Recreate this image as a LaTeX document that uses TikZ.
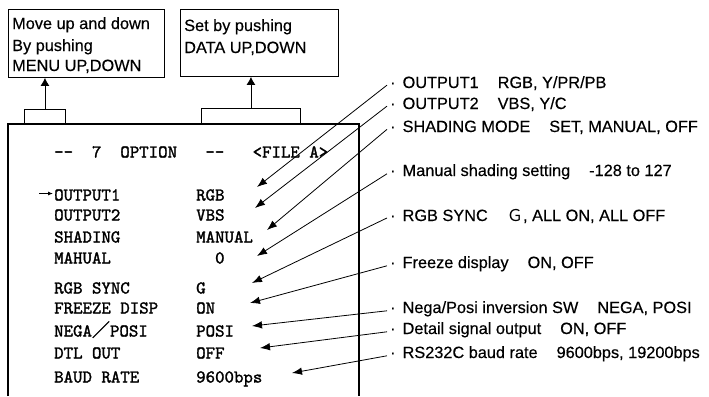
\documentclass[tikz,border=0pt]{standalone}
\usepackage{fontspec}
\setsansfont{Liberation Sans}[FakeBold=0.4]
\newfontfamily\cjk{Noto Sans CJK JP}[FakeBold=1.2]
\newfontfamily\monof{lmmono10-regular.otf}[FakeBold=1.6]
\usetikzlibrary{arrows.meta,calc}
\newcommand\gapp{\hspace{19bp}}
\newcommand\dotl{\textperiodcentered\hspace{7bp}}
\begin{document}
\begin{tikzpicture}[x=1bp,y=-1bp,
  frame/.style={draw, line width=0.9bp, inner sep=0pt},
  boxtxt/.style={anchor=base west, inner sep=0pt, font=\sffamily\fontsize{16.3bp}{20bp}\selectfont},
  lbl/.style={anchor=base west, inner sep=0pt, font=\sffamily\fontsize{16.3bp}{20bp}\selectfont},
  mono/.style={anchor=base west, inner sep=0pt, font=\monof\fontsize{18bp}{20bp}\selectfont},
  ptr/.style={line width=0.8bp, -{Latex[length=10bp,width=7.5bp]}},
  uparr/.style={line width=0.9bp, -{Latex[length=8bp,width=9bp]}}]
\useasboundingbox (0,0) rectangle (709,396);

% top boxes
\node[frame, anchor=north west, minimum width=156bp, minimum height=68bp] (box1) at (8,9) {};
\node[frame, anchor=north west, minimum width=158bp, minimum height=67bp] (box2) at (180,9) {};
\node[boxtxt] (b1a) at (12,29) {Move up and down};
\node[boxtxt] (b1b) at (12,51) {By pushing};
\node[boxtxt] (b1c) at (12,71) {MENU UP,DOWN};
\node[boxtxt] (b2a) at (184,31) {Set by pushing};
\node[boxtxt] (b2b) at (184,53) {DATA UP,DOWN};

% tabs
\node[frame, anchor=north west, minimum width=41bp, minimum height=15bp] (tab1) at (24,109) {};
\node[frame, anchor=north west, minimum width=99bp, minimum height=16bp] (tab2) at (201,108) {};
\draw[uparr] (tab1.north) -- (tab1.north |- box1.south);
\draw[uparr] (tab2.north) -- (tab2.north |- box2.south);

% screen frame (open at bottom)
\draw[line width=1.6bp] (8,396) -- (8,124) -- (359,124) -- (359,396);

% screen text
\node[mono] (head) at (54,157.5) {--~~7~~OPTION~~~--~~~<FILE~A>};
\node[mono] (n1) at (54,200.5) {OUTPUT1};
\node[mono] (n2) at (54,220.5) {OUTPUT2};
\node[mono] (n3) at (54,242.5) {SHADING};
\node[mono] (n4) at (54,263.5) {MAHUAL};
\node[mono] (n5) at (54,293.5) {RGB SYNC};
\node[mono] (n6) at (54,313.5) {FREEZE DISP};
\node[mono] (n7) at (54,336.5) {NEGA{\cjk ／}POSI};
\node[mono] (n8) at (54,358.5) {DTL OUT};
\node[mono] (n9) at (54,382.5) {BAUD RATE};
\node[mono] (v1) at (196,200.5) {RGB};
\node[mono] (v2) at (196,220.5) {VBS};
\node[mono] (v3) at (196,242.5) {MANUAL};
\node[mono] (v4) at (196,263.5) {~~0};
\node[mono] (v5) at (196,293.5) {G};
\node[mono] (v6) at (196,313.5) {ON};
\node[mono] (v7) at (196,336.5) {POSI};
\node[mono] (v8) at (196,358.5) {OFF};
\node[mono] (v9) at (196,382.5) {9600bps};

\coordinate (sa) at (39,193.5);
\draw[line width=0.8bp, -{Latex[length=5bp,width=4bp]}] (sa) -- ($(n1.west |- sa)+(-1,0)$);

% right labels
\node[lbl] (l1) at (390,88) {\dotl OUTPUT1\gapp RGB, Y/PR/PB};
\node[lbl] (l2) at (390,109) {\dotl OUTPUT2\gapp VBS, Y/C};
\node[lbl] (l3) at (390,132) {\dotl SHADING MODE\gapp SET, MANUAL, OFF};
\node[lbl] (l4) at (390,176) {\dotl Manual shading setting\gapp -128 to 127};
\node[lbl] (l5) at (390,221) {\dotl RGB SYNC\gapp{\cjk\addfontfeature{FakeBold=0}Ｇ}, ALL ON, ALL OFF};
\node[lbl] (l6) at (390,268) {\dotl Freeze display\gapp ON, OFF};
\node[lbl] (l7) at (390,313) {\dotl Nega/Posi inversion SW\gapp NEGA, POSI};
\node[lbl] (l8) at (390,334) {\dotl Detail signal output\gapp ON, OFF};
\node[lbl] (l9) at (390,358) {\dotl RS232C baud rate\gapp 9600bps, 19200bps};

% arrow tips
\coordinate (t1) at (257,187);
\coordinate (t2) at (255,208);
\coordinate (t3) at (267,230);
\coordinate (t4) at (257,256);
\coordinate (t5) at (252,283);
\coordinate (t6) at (250,303);
\coordinate (t7) at (252,326);
\coordinate (t8) at (260,348);
\coordinate (t9) at (292,373);
\foreach \i in {1,...,9}{
  \draw[ptr] ($(l\i.west)+(-3,2)$) -- (t\i);
}
\end{tikzpicture}
\end{document}
